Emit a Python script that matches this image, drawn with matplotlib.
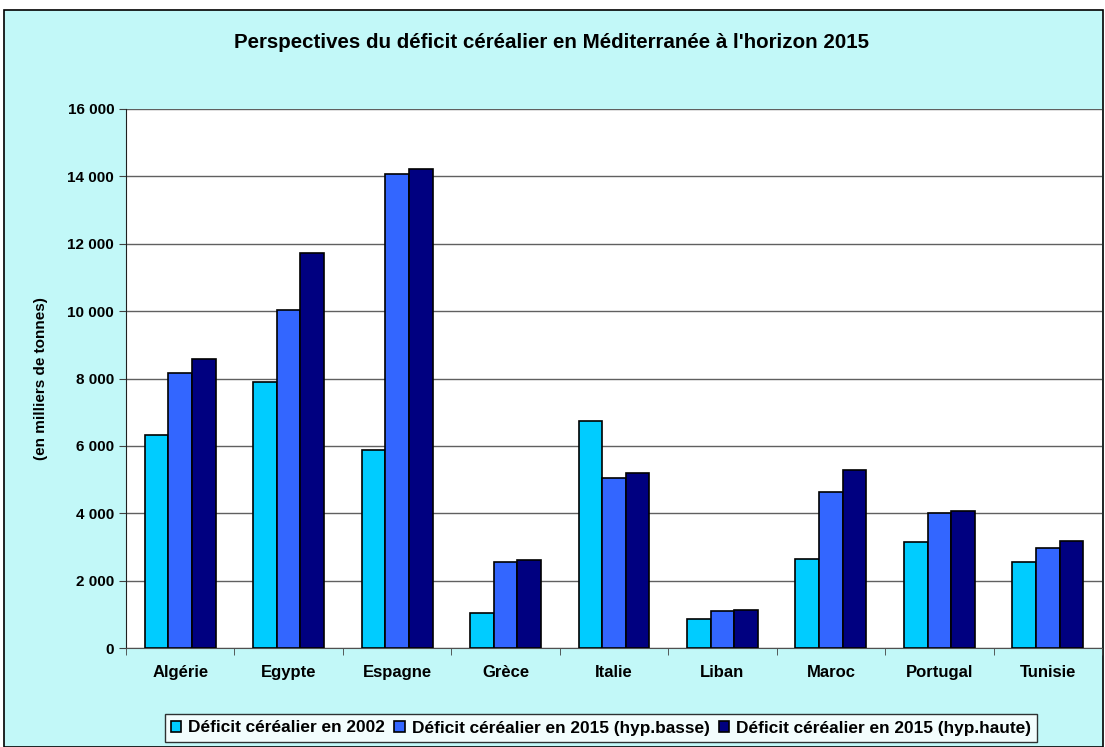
import numpy as np
import matplotlib.pyplot as plt
from matplotlib.patches import Rectangle
from matplotlib.ticker import FuncFormatter

plt.rcParams['font.family'] = ['Liberation Sans', 'DejaVu Sans']
plt.rcParams['font.weight'] = 'bold'

pays = ['Algérie', 'Egypte', 'Espagne', 'Grèce', 'Italie', 'Liban', 'Maroc', 'Portugal', 'Tunisie']
deficit_2002 = [6320, 7910, 5890, 1030, 6740, 860, 2640, 3160, 2550]
deficit_2015_basse = [8150, 10030, 14070, 2550, 5050, 1090, 4620, 4000, 2970]
deficit_2015_haute = [8570, 11720, 14210, 2600, 5180, 1140, 5280, 4060, 3170]
series_labels = ['Déficit céréalier en 2002',
                 'Déficit céréalier en 2015 (hyp.basse)',
                 'Déficit céréalier en 2015 (hyp.haute)']
colors = ['#00CCFF', '#3366FF', '#000080']

fig = plt.figure(figsize=(11.05, 7.47), dpi=100)
fig.patch.set_facecolor('white')
bg = Rectangle((4 / 1105, 0), 1099 / 1105, 737 / 747, transform=fig.transFigure,
               facecolor='#C2F8F8', edgecolor='black', linewidth=1.2, zorder=0)
fig.add_artist(bg)

ax = fig.add_axes([126 / 1105, 99 / 747, 976 / 1105, 539 / 747])
ax.set_zorder(2)
ax.set_facecolor('white')

x = np.arange(len(pays))
w = 0.218
for i, vals in enumerate([deficit_2002, deficit_2015_basse, deficit_2015_haute]):
    ax.bar(x + (i - 1) * w, vals, width=w, color=colors[i], edgecolor='black',
           linewidth=1.2, label=series_labels[i], zorder=3)

ax.set_xlim(-0.5, len(pays) - 0.5)
ax.set_ylim(0, 16000)
ax.set_yticks(np.arange(0, 16001, 2000))
ax.yaxis.set_major_formatter(FuncFormatter(lambda v, p: f'{int(v):,}'.replace(',', ' ')))
ax.grid(axis='y', color='#606060', linewidth=1, zorder=0)
ax.set_xticks(x)
ax.set_xticklabels(pays)
ax.set_xticks(np.arange(-0.5, len(pays)), minor=True)
ax.tick_params(axis='x', which='major', length=0, pad=12, labelsize=12)
ax.tick_params(axis='x', which='minor', length=5, direction='out', color='#404040')
ax.tick_params(axis='y', length=5, direction='out', labelsize=11, color='#404040')
for s in ['top', 'right']:
    ax.spines[s].set_visible(False)
ax.spines['left'].set_color('#202020')
ax.spines['bottom'].set_color('#505050')

ax.set_ylabel('(en milliers de tonnes)', fontsize=11, fontweight='bold', labelpad=14)
fig.text(552 / 1105, 1 - 42 / 747, "Perspectives du déficit céréalier en Méditerranée à l'horizon 2015",
         ha='center', va='center', fontsize=14.8, fontweight='bold', zorder=3)

leg = fig.legend(loc='center', bbox_to_anchor=(601 / 1105, 1 - 728 / 747), ncol=3,
                 fontsize=12.4, frameon=True, fancybox=False, edgecolor='black',
                 handlelength=0.6, handleheight=0.6, handletextpad=0.4, columnspacing=0.55,
                 borderpad=0.35)
leg.get_frame().set_linewidth(1)
leg.set_zorder(3)

fig.savefig('out.png', dpi=100, facecolor=fig.get_facecolor())
